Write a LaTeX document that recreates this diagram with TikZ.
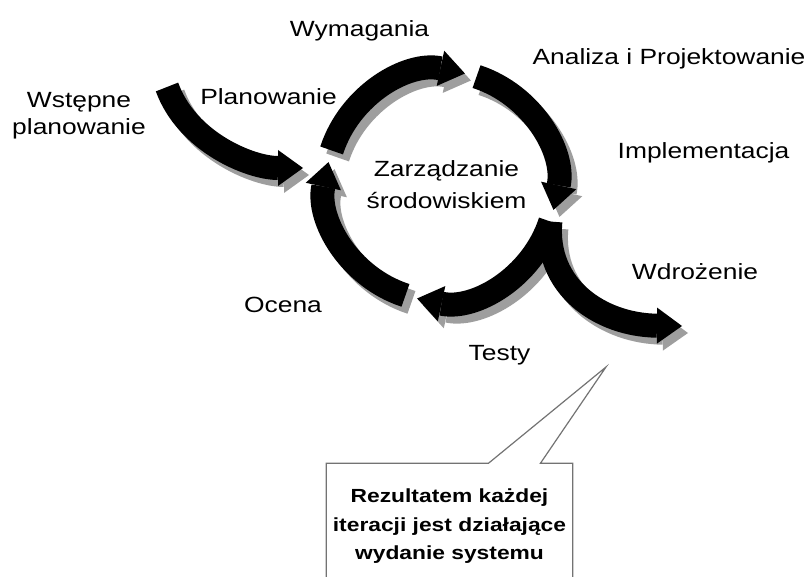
\documentclass[tikz,border=0pt]{standalone}
\usepackage{fontspec}
\setmainfont{Liberation Sans}[FakeStretch=1.2]
\usepackage{tikz}
\usetikzlibrary{arrows.meta,shapes.callouts}
\tikzset{
phase/.style={
  line width=12pt, line cap=butt,
  -{Triangle[width=18pt,length=12.5pt,line width=0pt]}
  },
grayarc/.style={
  draw=black!38,
  transform canvas={xshift=3pt,yshift=-3.5pt}
  },
lbl/.style={
  font=\fontsize{11}{13.5}\selectfont, anchor=base
  }
}

\begin{document}
\begin{tikzpicture}[x=0.5pt,y=-0.5pt]
\path[use as bounding box, clip] (0,0) rectangle (808,577);

% circle of phases
\coordinate (ctr) at (441,186);
\path (ctr) ++(162:57.5pt) coordinate (t1);
\path (ctr) ++(72:57.5pt) coordinate (t2);
\path (ctr) ++(-18:57.5pt) coordinate (t3);
\path (ctr) ++(-108:57.5pt) coordinate (t4);

\coordinate (wp0) at (167,87);
\coordinate (wp1) at (303,168);
\coordinate (wd1) at (682,326);
\coordinate (ptr) at (606,367);

% shadows
\draw[phase,grayarc] (t1) arc[start angle=162, end angle=78, radius=57.5pt];
\draw[phase,grayarc] (t2) arc[start angle=72, end angle=-12, radius=57.5pt];
\draw[phase,grayarc] (t3) arc[start angle=-18, end angle=-102, radius=57.5pt];
\draw[phase,grayarc] (t4) arc[start angle=-108, end angle=-192, radius=57.5pt];
\draw[phase,grayarc] (wp0) .. controls +(20,55) and +(-53,0) .. (wp1);
\draw[phase,grayarc] (t3) .. controls +(-6,65) and +(-82,-1) .. (wd1);

% arrows
\draw[phase] (t1) arc[start angle=162, end angle=78, radius=57.5pt];
\draw[phase] (t2) arc[start angle=72, end angle=-12, radius=57.5pt];
\draw[phase] (t3) arc[start angle=-18, end angle=-102, radius=57.5pt];
\draw[phase] (t4) arc[start angle=-108, end angle=-192, radius=57.5pt];
\draw[phase] (wp0) .. controls +(20,55) and +(-53,0) .. (wp1);
\draw[phase] (t3) .. controls +(-6,65) and +(-82,-1) .. (wd1);

% labels
\node[lbl] (wym) at (359.5,37) {Wymagania};
\node[lbl] (ana) at (669,65) {Analiza i Projektowanie};
\node[lbl] (imp) at (703.5,159) {Implementacja};
\node[lbl] (wdr) at (695,279) {Wdrożenie};
\node[lbl] (tes) at (499.5,360) {Testy};
\node[lbl] (oce) at (283,313) {Ocena};
\node[lbl] (pla) at (268.5,105) {Planowanie};
\node[lbl,anchor=center,align=center] (wst) at (79,116) {Wstępne\\planowanie};
\node[lbl,anchor=center,align=center] (zar) at (446.5,185)
  {Zarządzanie\\[2.5pt]środowiskiem};

% callout
\node[rectangle callout, draw=black!55, line width=0.6pt, fill=white,
  minimum width=121.5pt, minimum height=68.3pt,
  callout absolute pointer={(ptr)}, callout pointer width=26pt,
  align=center, text depth=7pt,
  font=\bfseries\fontsize{9.5}{14.25}\selectfont]
  (res) at (449.5,531.6)
  {Rezultatem każdej\\iteracji jest działające\\wydanie systemu};

\end{tikzpicture}
\end{document}
